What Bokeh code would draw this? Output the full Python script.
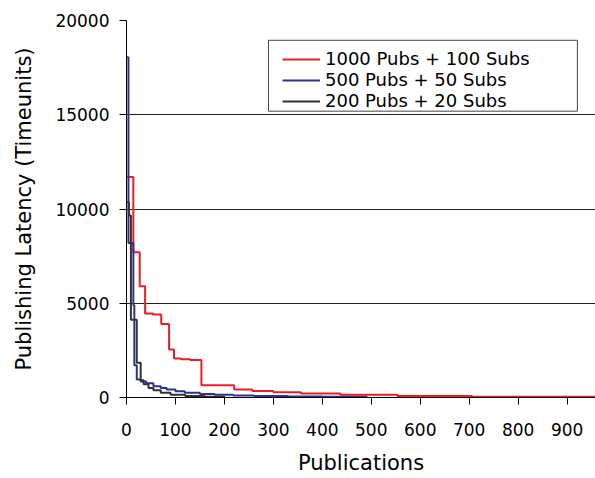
from bokeh.plotting import figure
from bokeh.models import Range1d, FixedTicker, Legend, LegendItem, BasicTickFormatter, BoxAnnotation
from bokeh.embed import file_html
from bokeh.resources import INLINE

# ---- data ----
red_x = [0, 14, 27, 38, 54, 71, 87, 97, 111, 130, 153, 220, 257, 300, 356, 437, 553, 706, 958]
red_y = [11700, 7700, 5900, 4450, 4400, 3900, 2550, 2070, 2030, 1990, 650, 420, 350, 280, 210, 140, 80, 40, 40]

blue_x = [0, 4, 14, 16, 21, 29, 40, 55, 70, 82, 100, 119, 150, 180, 218, 260, 330, 400, 492]
blue_y = [18050, 8200, 4900, 1710, 950, 850, 750, 600, 500, 420, 330, 250, 190, 150, 110, 80, 55, 40, 40]

black_x = [0, 5, 9, 21, 29, 35, 45, 55, 70, 90, 120, 160, 200]
black_y = [10370, 9660, 4130, 1850, 920, 700, 500, 380, 250, 150, 80, 40, 20]

labels = ["1000 Pubs + 100 Subs", "500 Pubs + 50 Subs", "200 Pubs + 20 Subs"]
x_ticks = [0, 100, 200, 300, 400, 500, 600, 700, 800, 900]
y_ticks = [0, 5000, 10000, 15000, 20000]

FONT = "DejaVu Sans"

p = figure(width=595, height=478, output_backend="svg", toolbar_location=None,
           x_range=Range1d(0, 958), y_range=Range1d(0, 20000),
           min_border_left=126, min_border_top=20, min_border_bottom=81, min_border_right=0)
p.outline_line_color = None
p.background_fill_color = "white"
p.border_fill_color = "white"

p.xgrid.grid_line_color = None
p.ygrid.grid_line_color = "#222222"
p.ygrid.grid_line_width = 1
p.ygrid.ticker = FixedTicker(ticks=y_ticks)

p.xaxis.ticker = FixedTicker(ticks=x_ticks)
p.yaxis.ticker = FixedTicker(ticks=y_ticks)
p.yaxis.formatter = BasicTickFormatter(use_scientific=False)
for ax in (p.xaxis[0], p.yaxis[0]):
    ax.axis_line_color = "black"
    ax.axis_line_width = 1
    ax.major_tick_line_color = "black"
    ax.major_tick_in = 0
    ax.major_tick_out = 7
    ax.minor_tick_line_color = None
    ax.major_label_text_font = FONT
    ax.major_label_text_font_size = "17px"
    ax.major_label_text_color = "black"
    ax.axis_label_text_font = FONT
    ax.axis_label_text_font_size = "21px"
    ax.axis_label_text_font_style = "normal"
    ax.axis_label_text_color = "black"

p.xaxis.axis_label = "Publications"
p.yaxis.axis_label = "Publishing Latency (Timeunits)"
p.xaxis.major_label_standoff = 18
p.xaxis.axis_label_standoff = 12
p.yaxis.major_label_standoff = 10
p.yaxis.axis_label_standoff = 16

r_red = p.step(red_x, red_y, mode="after", line_color="#ed1c24", line_width=2)
r_blue = p.step(blue_x, blue_y, mode="after", line_color="#2e3192", line_width=2)
r_black = p.step(black_x, black_y, mode="after", line_color="#333333", line_width=2)

# legend frame (fixed box behind the legend entries)
box = BoxAnnotation(left=290, right=921, top=18950, bottom=15190,
                    fill_color="white", fill_alpha=1,
                    line_color="#444444", line_width=1, line_alpha=1)
p.add_layout(box)

legend = Legend(items=[LegendItem(label=labels[0], renderers=[r_red]),
                       LegendItem(label=labels[1], renderers=[r_blue]),
                       LegendItem(label=labels[2], renderers=[r_black])],
                location=(156, 286))
legend.label_text_font = FONT
legend.label_text_font_size = "18px"
legend.label_text_color = "black"
legend.glyph_width = 38
legend.glyph_height = 20
legend.label_height = 20
legend.label_standoff = 5
legend.spacing = 0
legend.padding = 6
legend.margin = 0
legend.border_line_color = None
legend.background_fill_alpha = 0
p.add_layout(legend, "center")

open("out.html", "w").write(file_html(p, INLINE))
